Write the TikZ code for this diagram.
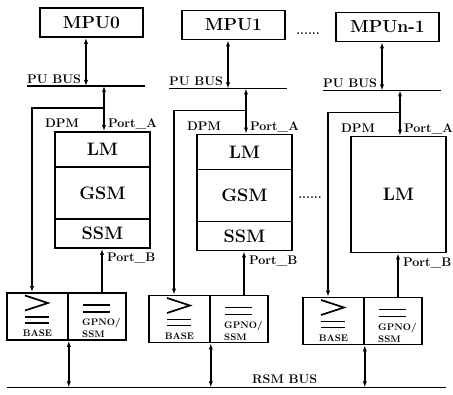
\documentclass[tikz,border=0pt]{standalone}
\usepackage{fontspec}
\usetikzlibrary{arrows.meta,calc}
\newcommand\bigf{\fontsize{17.5}{19}\selectfont\bfseries}
\newcommand\memf{\fontsize{18}{20}\selectfont\bfseries}
\newcommand\lblf{\fontsize{12.5}{14}\selectfont\bfseries}
\newcommand\tinyf{\fontsize{9.5}{11}\selectfont\bfseries}
\tikzset{
  box/.style={draw, line width=1.7pt, inner sep=0pt, minimum width=103pt, minimum height=29pt, font=\bigf},
  mem/.style={draw, line width=1.8pt, inner sep=0pt, minimum width=95pt, font=\memf},
  cell/.style={draw, line width=1.6pt, inner sep=0pt, minimum height=47pt},
  busline/.style={line width=1.6pt},
  wire/.style={line width=1.5pt},
  arr/.style={wire, -{Latex[length=6pt,width=4.2pt]}},
  dbl/.style={wire, {Latex[length=6pt,width=4.2pt]}-{Latex[length=6pt,width=4.2pt]}},
  sym/.style={line width=1.7pt},
  lbl/.style={inner sep=0pt, font=\lblf},
  tlbl/.style={inner sep=0pt, font=\tinyf},
}
% #1 index, #2 MPU label, #3 xshift, #4 yshift, #5 1 = LM/GSM/SSM, 0 = LM only
\newcommand\pecell[5]{%
\begin{scope}[shift={(#3,#4)}]
  \node[box] (mpu#1) at (91.5,22.5) {#2};
  \coordinate (bw#1) at (27,86);
  \coordinate (be#1) at (145,86);
  \draw[busline] (bw#1) -- (be#1);
  \node[lbl, anchor=base west] (pul#1) at (27,83.5) {PU BUS};
  \coordinate (xm#1) at (86,0);
  \draw[dbl] (mpu#1.south -| xm#1) -- (bw#1 -| xm#1);
  \ifnum#5=1
    \node[mem, minimum height=35pt] (mt#1) at (102.5,149.5) {LM};
    \node[mem, minimum height=52pt] (gsm#1) at (102.5,193) {GSM};
    \node[mem, minimum height=29pt] (mb#1) at (102.5,233.5) {SSM};
  \else
    \node[mem, minimum height=116pt, alias=mb#1] (mt#1) at (102.5,190) {LM};
  \fi
  \node[cell, minimum width=61pt] (base#1) at (37.5,316.5) {};
  \node[cell, minimum width=58pt] (gp#1) at (97,316.5) {};
  \coordinate (xa#1) at (104,0);
  \draw[dbl] (bw#1 -| xa#1) -- (mt#1.north -| xa#1);
  \coordinate (dj#1) at (104,108);
  \coordinate (dc#1) at (32,108);
  \draw[arr] (dj#1) -- (dc#1) -- (base#1.north -| dc#1);
  \coordinate (xb#1) at (102,0);
  \draw[arr] (gp#1.north -| xb#1) -- (mb#1.south -| xb#1);
  \draw[dbl] (base#1.south east) -- (base#1.south east |- rsmw);
  \node[lbl, anchor=base west] (dpm#1) at (45,128) {DPM};
  \node[lbl, anchor=base west] (pa#1) at (108,128) {Port\_A};
  \node[lbl, anchor=base west] (pb#1) at (107,262) {Port\_B};
  \draw[sym] (25,295.5) -- (48,303) -- (25,310.5);
  \draw[sym] (25,317) -- (49,317) (25,323) -- (49,323);
  \node[tlbl, anchor=base] (bt#1) at (37.5,337) {BASE};
  \draw[sym] (83,305) -- (110,305) (83,312) -- (110,312);
  \node[tlbl, anchor=base west] (g1#1) at (82,326) {GPNO/};
  \node[tlbl, anchor=base west] (g2#1) at (82,338) {SSM};
\end{scope}}
\begin{document}
\begin{tikzpicture}[x=1pt,y=-1pt]
  \useasboundingbox (0,0) rectangle (453,395);
  \coordinate (rsmw) at (7,387.5);
  \coordinate (rsme) at (446,387.5);
  \draw[busline] (rsmw) -- (rsme);
  \node[lbl, anchor=base west] (rsml) at (252,383.5) {RSM BUS};
  \pecell{0}{MPU0}{0}{0}{1}
  \pecell{1}{MPU1}{142}{2.5}{1}
  \pecell{2}{MPUn-1}{296}{4.5}{0}
  \node[lbl, anchor=base] (dotsa) at (308,34.5) {......};
  \node[lbl, anchor=base] (dotsb) at (310,199) {......};
\end{tikzpicture}
\end{document}
